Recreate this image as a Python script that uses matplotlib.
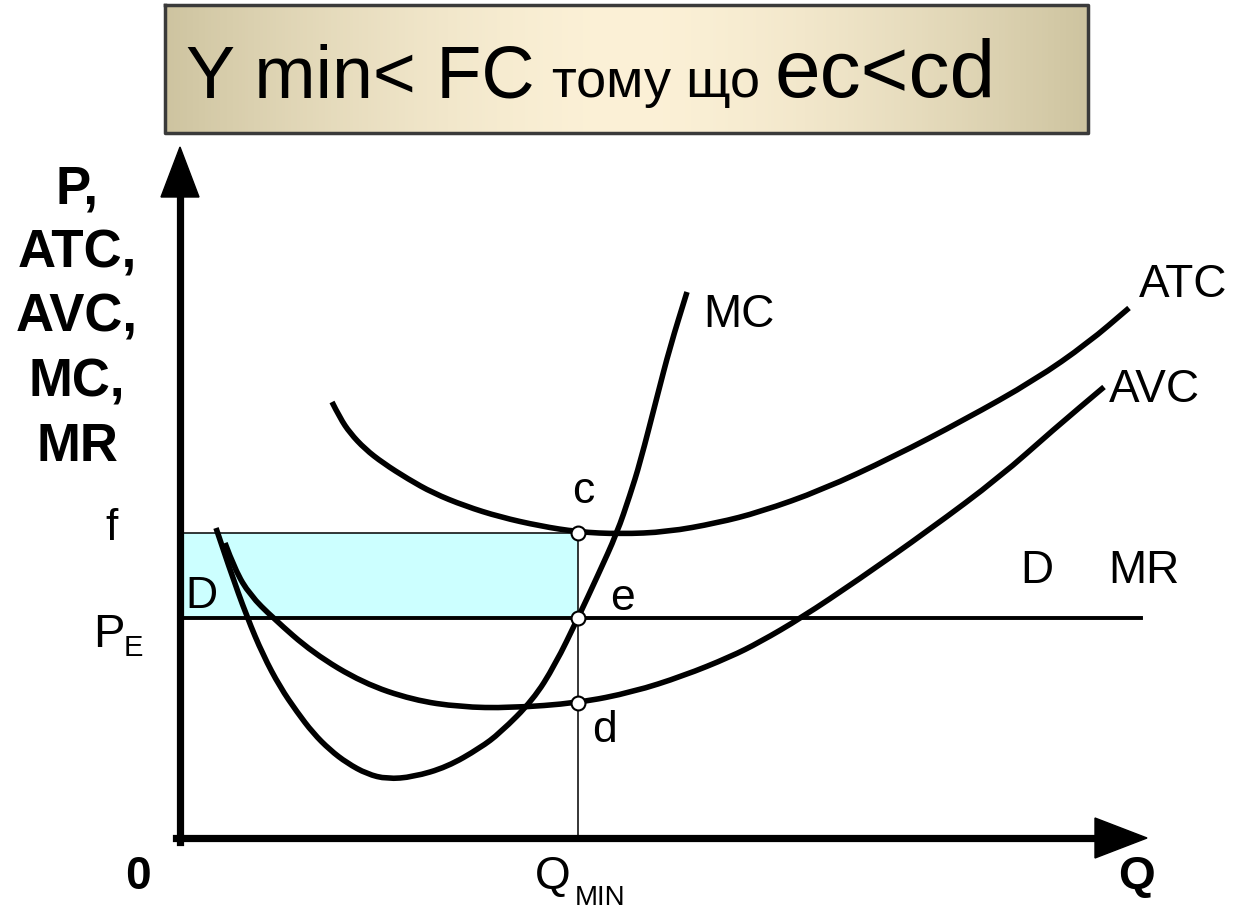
import matplotlib.pyplot as plt
from matplotlib.path import Path
from matplotlib.patches import PathPatch
import numpy as np

plt.rcParams['font.family'] = ['Liberation Sans', 'DejaVu Sans']

# curve points (picture coordinates: x to the right, y downwards)
mc_x = [216, 230, 247, 263, 280, 297, 313, 330, 347, 367, 387, 413, 447, 480, 500, 533, 555, 578, 598, 617, 630, 640, 657, 670, 687]
mc_y = [528, 570, 617, 655, 687, 712, 733, 750, 763, 774, 779, 777, 767, 748, 733, 700, 665, 618, 575, 533, 495, 463, 397, 347, 292]

avc_x = [225, 235, 250, 273, 313, 363, 413, 460, 510, 578, 633, 683, 730, 760, 801, 858, 929, 1000, 1053, 1104]
avc_y = [543, 570, 595, 618, 653, 683, 700, 707, 708, 703, 692, 676, 657, 642, 618, 580, 530, 477, 430, 387]

atc_x = [332, 340, 350, 365, 383, 408, 433, 465, 500, 540, 578, 620, 667, 717, 760, 822, 893, 964, 1035, 1088, 1129]
atc_y = [402, 418, 433, 449, 463, 479, 493, 506, 517, 526, 532, 534, 532, 523, 512, 490, 457, 420, 380, 343, 308]

origin = (180, 838)
q_min = 578
p_f = 533
p_e = 618
p_d = 703
mr_end = 1141

y_label_lines = ['P,', 'ATC,', 'AVC,', 'MC,', 'MR']


def smooth_curve(ax, xs, ys, **kw):
    # quadratic bezier path: read points act as control points
    pts = list(zip(xs, ys))
    verts = [pts[0]]
    codes = [Path.MOVETO]
    for i in range(1, len(pts) - 1):
        mid = ((pts[i][0] + pts[i + 1][0]) / 2, (pts[i][1] + pts[i + 1][1]) / 2)
        verts += [pts[i], mid]
        codes += [Path.CURVE3, Path.CURVE3]
    verts.append(pts[-1])
    codes.append(Path.LINETO)
    ax.add_patch(PathPatch(Path(verts, codes), fill=False, **kw))


def main():
    fig = plt.figure(figsize=(12.34, 9.09), dpi=100)
    ax = fig.add_axes([0, 0, 1, 1])

    # title box with soft gradient
    t = np.linspace(-1, 1, 300)
    w = 1 - np.abs(t) ** 1.6
    left = np.array([206, 196, 160]) / 255
    mid = np.array([252, 241, 215]) / 255
    grad = left[None, :] * (1 - w[:, None]) + mid[None, :] * w[:, None]
    ax.imshow(grad[None, :, :], extent=(165, 1088, 133, 5), aspect='auto', zorder=1)
    ax.plot([165, 1088, 1088, 165, 165], [5, 5, 133, 133, 5], color='#3a3a3a', lw=2.5, zorder=2)
    ax.text(186, 97, 'Y min< FC', fontsize=53, va='baseline', ha='left', zorder=3)
    ax.text(552, 97, 'тому що', fontsize=39, va='baseline', ha='left', zorder=3)
    ax.text(774, 97, 'ec<cd', fontsize=59, va='baseline', ha='left', zorder=3)

    # shaded loss area
    ax.fill_between([origin[0], q_min], p_f, p_e, color='#ccffff', lw=0, zorder=1)
    ax.plot([origin[0], q_min], [p_f, p_f], color='black', lw=1.1, zorder=2)
    ax.plot([q_min, q_min], [p_f, origin[1]], color='black', lw=1.1, zorder=2)
    ax.plot([origin[0], mr_end], [p_e, p_e], color='black', lw=2.8, zorder=3)

    # curves
    for xs, ys in [(mc_x, mc_y), (avc_x, avc_y), (atc_x, atc_y)]:
        smooth_curve(ax, xs, ys, color='black', lw=4.0, capstyle='butt', zorder=4)

    # axes with arrowheads
    ax.plot([origin[0], origin[0]], [origin[1] + 4, 195], color='black', lw=5.2, zorder=5)
    ax.plot([origin[0] - 4, 1097], [origin[1], origin[1]], color='black', lw=5.2, zorder=5)
    ax.fill([161, 199, 180], [197, 197, 147], color='black', zorder=5)
    ax.fill([1095, 1095, 1147], [818, 858, 838], color='black', zorder=5)

    # points c, e, d
    ax.plot([q_min] * 3, [p_f, p_e, p_d], 'o', ms=10, mfc='white', mec='black', mew=1.5, zorder=6)

    # labels
    for i, line in enumerate(y_label_lines):
        ax.text(77, 203 + i * 64.5, line, fontsize=38, fontweight='bold', ha='center', va='baseline')
    ax.text(112, 540, 'f', fontsize=32, ha='center', va='baseline')
    ax.text(93, 647, 'P', fontsize=34, ha='left', va='baseline')
    ax.text(124, 656, 'E', fontsize=21, ha='left', va='baseline')
    ax.text(185, 608, 'D', fontsize=32, ha='left', va='baseline')
    ax.text(572, 503, 'c', fontsize=32, ha='left', va='baseline')
    ax.text(610, 610, 'e', fontsize=32, ha='left', va='baseline')
    ax.text(592, 742, 'd', fontsize=32, ha='left', va='baseline')
    ax.text(703, 327, 'MC', fontsize=33, ha='left', va='baseline')
    ax.text(1139, 297, 'ATC', fontsize=33, ha='left', va='baseline')
    ax.text(1109, 402, 'AVC', fontsize=33, ha='left', va='baseline')
    ax.text(1020, 583, 'D', fontsize=33, ha='left', va='baseline')
    ax.text(1108, 583, 'MR', fontsize=33, ha='left', va='baseline')
    ax.text(138, 889, '0', fontsize=33, fontweight='bold', ha='center', va='baseline')
    ax.text(1136, 889, 'Q', fontsize=34, fontweight='bold', ha='center', va='baseline')
    ax.text(535, 889, 'Q', fontsize=33, ha='left', va='baseline')
    ax.text(575, 905, 'MIN', fontsize=20, ha='left', va='baseline')

    ax.set_xlim(0, 1234)
    ax.set_ylim(909, 0)
    ax.axis('off')
    fig.savefig('out.png', dpi=100)


if __name__ == "__main__":
    main()
